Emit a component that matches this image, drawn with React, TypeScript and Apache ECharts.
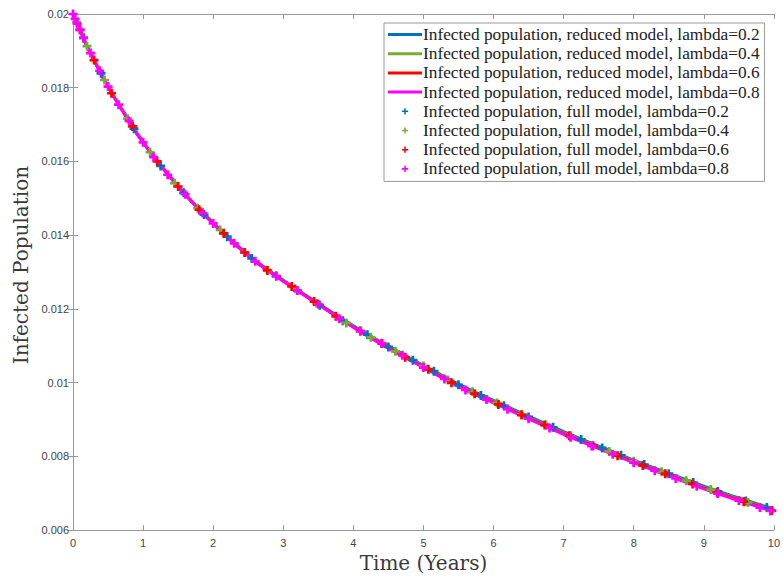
import React, { useEffect, useRef } from "react";
import * as echarts from "echarts";

const xTicks = [0, 10, 1];
const yTicks = [0.006, 0.02, 0.002];

const lineT = [0, 0.1, 0.2, 0.3, 0.5, 0.75, 1, 1.5, 2, 2.5, 3, 3.5, 4, 4.5, 5, 5.5, 6, 6.5, 7, 7.5, 8, 8.5, 9, 9.5, 10];
const reduced02 = [0.02, 0.01957, 0.01913, 0.01875, 0.01803, 0.01725, 0.01652, 0.01532, 0.01433, 0.01347, 0.01278, 0.01215, 0.01154, 0.01099, 0.01047, 0.00996, 0.00952, 0.00909, 0.00867, 0.00828, 0.0079, 0.00754, 0.00719, 0.00687, 0.00657];
const reduced04 = [0.02, 0.01957, 0.01913, 0.01875, 0.01803, 0.01725, 0.01652, 0.01532, 0.01432, 0.01346, 0.01277, 0.01214, 0.01152, 0.01097, 0.01045, 0.00993, 0.00949, 0.00906, 0.00864, 0.00825, 0.00787, 0.00751, 0.00716, 0.00684, 0.00654];
const reduced06 = [0.02, 0.01957, 0.01913, 0.01875, 0.01803, 0.01725, 0.01652, 0.01532, 0.01432, 0.01345, 0.01276, 0.01213, 0.01151, 0.01095, 0.01043, 0.00991, 0.00947, 0.00904, 0.00862, 0.00823, 0.00785, 0.00749, 0.00714, 0.00682, 0.00652];
const reduced08 = [0.02, 0.01957, 0.01913, 0.01875, 0.01803, 0.01725, 0.01652, 0.01532, 0.01431, 0.01344, 0.01275, 0.01212, 0.0115, 0.01093, 0.01041, 0.00989, 0.00945, 0.00902, 0.0086, 0.00821, 0.00783, 0.00747, 0.00712, 0.0068, 0.0065];

const full02 = [[0.15,0.01935],[0.40,0.01839],[0.87,0.01689],[1.25,0.01588],[1.58,0.01515],[1.87,0.01456],[2.20,0.01396],[2.55,0.01337],[2.90,0.01289],[3.20,0.01250],[3.52,0.01210],[3.85,0.01168],[4.20,0.01130],[4.50,0.01097],[4.85,0.01061],[5.15,0.01031],[5.50,0.00994],[5.82,0.00965],[6.15,0.00937],[6.50,0.00907],[6.85,0.00879],[7.25,0.00846],[7.55,0.00823],[7.82,0.00803],[8.15,0.00778],[8.50,0.00753],[8.85,0.00729],[9.20,0.00705],[9.60,0.00679],[9.90,0.00661]];
const full04 = [[0.05,0.01978],[0.20,0.01913],[0.45,0.01821],[0.78,0.01716],[1.10,0.01625],[1.45,0.01541],[1.78,0.01473],[2.10,0.01414],[2.45,0.01353],[2.78,0.01304],[3.17,0.01255],[3.48,0.01215],[3.90,0.01162],[4.25,0.01123],[4.60,0.01085],[5.00,0.01045],[5.35,0.01007],[5.70,0.00975],[6.05,0.00945],[6.40,0.00914],[6.75,0.00885],[7.10,0.00856],[7.65,0.00813],[8.00,0.00787],[8.40,0.00758],[8.75,0.00734],[9.10,0.00710],[9.63,0.00675]];
const full06 = [[0.10,0.01957],[0.30,0.01875],[0.55,0.01785],[0.85,0.01695],[1.20,0.01600],[1.50,0.01532],[1.80,0.01469],[2.15,0.01405],[2.45,0.01353],[2.77,0.01305],[3.12,0.01261],[3.44,0.01220],[3.75,0.01180],[4.10,0.01140],[4.41,0.01106],[4.74,0.01069],[5.07,0.01036],[5.40,0.01000],[5.73,0.00970],[6.07,0.00941],[6.40,0.00912],[6.73,0.00885],[7.08,0.00856],[7.42,0.00829],[7.77,0.00802],[8.13,0.00775],[8.45,0.00753],[8.84,0.00725],[9.19,0.00702],[9.57,0.00677],[9.97,0.00653]];
const full08 = [[0.00,0.02000],[0.03,0.01987],[0.06,0.01974],[0.10,0.01957],[0.15,0.01935],[0.25,0.01894],[0.38,0.01846],[0.50,0.01803],[0.65,0.01754],[0.80,0.01710],[1.00,0.01652],[1.15,0.01612],[1.35,0.01564],[1.60,0.01511],[1.85,0.01460],[2.00,0.01432],[2.30,0.01378],[2.60,0.01329],[2.90,0.01289],[3.20,0.01250],[3.50,0.01213],[3.80,0.01173],[4.10,0.01140],[4.40,0.01107],[4.70,0.01074],[5.00,0.01041],[5.30,0.01010],[5.60,0.00980],[5.90,0.00954],[6.20,0.00928],[6.50,0.00902],[6.80,0.00877],[7.10,0.00852],[7.40,0.00828],[7.70,0.00806],[8.00,0.00783],[8.30,0.00761],[8.60,0.00740],[8.90,0.00719],[9.20,0.00699],[9.50,0.00680],[9.80,0.00661],[9.95,0.00652]];

const lambdas = ["0.2", "0.4", "0.6", "0.8"];
const colors = ["#0072BD", "#77AC30", "#FF0000", "#FF00FF"];
const reducedSets = [reduced02, reduced04, reduced06, reduced08];
const fullSets = [full02, full04, full06, full08];

const PLUS = "path://M2.8,0H5.2V2.8H8V5.2H5.2V8H2.8V5.2H0V2.8H2.8Z";
const PLUS_LEGEND = "path://M0,0M18,18M8,5H10V8H13V10H10V13H8V10H5V8H8Z";
const LINE_LEGEND = "path://M0,0M34,14M0,5.5H34V8.5H0Z";

export default function App() {
  const ref = useRef<HTMLDivElement>(null);
  useEffect(() => {
    if (!ref.current) return;
    const chart = echarts.init(ref.current, null, { renderer: "svg" });
    const redNames = lambdas.map((l) => `Infected population, reduced model, lambda=${l}`);
    const fullNames = lambdas.map((l) => `Infected population, full model, lambda=${l}`);
    const axisLine = { show: true, lineStyle: { color: "#999", width: 1 } };
    const tick = { show: true, inside: true, length: 5, lineStyle: { color: "#999" } };
    const labelStyle = { color: "#444", fontFamily: "'Liberation Sans', Arial, sans-serif", fontSize: 11 };
    const series: any[] = [];
    reducedSets.forEach((vals, i) => {
      series.push({
        name: redNames[i],
        type: "line",
        data: lineT.map((t, k) => [t, vals[k]]),
        symbol: "none",
        smooth: true,
        lineStyle: { color: colors[i], width: 3 },
        itemStyle: { color: colors[i] },
        z: 2,
      });
    });
    fullSets.forEach((pts, i) => {
      series.push({
        name: fullNames[i],
        type: "scatter",
        data: pts,
        symbol: PLUS,
        symbolSize: 9,
        itemStyle: { color: colors[i], opacity: 1 },
        z: 3,
      });
    });
    chart.setOption({
      animation: false,
      backgroundColor: "#fff",
      grid: { left: 73, right: 6, top: 14, bottom: 45, containLabel: false },
      legend: {
        orient: "vertical",
        left: 384,
        top: 23,
        padding: [3, 5, 4, 4],
        itemWidth: 34,
        itemHeight: 14,
        itemGap: 2.2,
        backgroundColor: "#fff",
        borderColor: "#999",
        borderWidth: 1,
        textStyle: { fontFamily: "'Liberation Serif', serif", fontSize: 17.3, lineHeight: 14, color: "#222", padding: [0, 0, 0, -4] },
        data: [
          ...redNames.map((n) => ({ name: n, icon: LINE_LEGEND })),
          ...fullNames.map((n) => ({ name: n, icon: PLUS_LEGEND })),
        ],
      },
      xAxis: [
        {
          type: "value",
          min: xTicks[0],
          max: xTicks[1],
          interval: xTicks[2],
          name: "Time (Years)",
          nameLocation: "middle",
          nameGap: 22,
          nameTextStyle: { fontFamily: "'DejaVu Serif', serif", fontSize: 20, color: "#3a3a3a" },
          axisLine,
          axisTick: tick,
          axisLabel: { ...labelStyle, margin: 7 },
          splitLine: { show: false },
        },
        {
          type: "value",
          position: "top",
          min: xTicks[0],
          max: xTicks[1],
          interval: xTicks[2],
          axisLine,
          axisTick: tick,
          axisLabel: { show: false },
          splitLine: { show: false },
        },
      ],
      yAxis: [
        {
          type: "value",
          min: yTicks[0],
          max: yTicks[1],
          interval: yTicks[2],
          name: "Infected Population",
          nameLocation: "middle",
          nameGap: 42,
          nameTextStyle: { fontFamily: "'DejaVu Serif', serif", fontSize: 20, color: "#3a3a3a", padding: [0, 0, 0, 14] },
          axisLine,
          axisTick: tick,
          axisLabel: { ...labelStyle, margin: 4 },
          splitLine: { show: false },
        },
        {
          type: "value",
          position: "right",
          min: yTicks[0],
          max: yTicks[1],
          interval: yTicks[2],
          axisLine,
          axisTick: tick,
          axisLabel: { show: false },
          splitLine: { show: false },
        },
      ],
      series,
    });
    return () => chart.dispose();
  }, []);
  return <div ref={ref} style={{ position: "fixed", left: 0, top: 0, width: 783, height: 578 }} />;
}
